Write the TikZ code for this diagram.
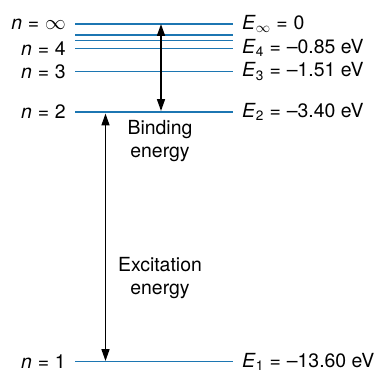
\documentclass[tikz,border=0pt]{standalone}
\usepackage{fontspec}
\setmainfont{TeX Gyre Heros}
\usetikzlibrary{arrows.meta}
\definecolor{levelblue}{RGB}{28,118,178}
\newcommand{\eq}{\hspace{0.3em}=\hspace{0.3em}}
\tikzset{
  level/.style={levelblue, line width=1.3pt},
  trans/.style={line width=1.6pt, {Triangle[length=12pt,width=8pt]}-{Triangle[length=12pt,width=8pt]}},
  lab/.style={font=\fontsize{19.5}{23}\selectfont, inner sep=0pt},
  note/.style={font=\fontsize{19.5}{23.5}\selectfont, align=center, inner sep=0pt}
}
\begin{document}
\begin{tikzpicture}[x=1bp, y=-1bp, line cap=butt]
  % Picture bounds
  \useasboundingbox (0,0) rectangle (391,373);

  % Energy levels with their labels
  \draw[level] (75,24) coordinate (inf-l) -- (233,24) coordinate (inf-r);
  \draw[level] (75,361.5) coordinate (one-l) -- (233,361.5) coordinate (one-r);
  \draw[level] (75,112) coordinate (two-l) -- (233,112) coordinate (two-r);
  \draw[level] (75,71.5) coordinate (three-l) -- (233,71.5) coordinate (three-r);
  \draw[level] (75,48.3) coordinate (four-l) -- (233,48.3) coordinate (four-r);
  \foreach \y/\name in {35/five, 40.7/six}
    \draw[level] (75,\y) coordinate (\name-l) -- (233,\y) coordinate (\name-r);

  \node[lab, anchor=east] (ninf) at ([xshift=-9bp]inf-l) {\textit{n}\eq$\infty$};
  \node[lab, anchor=east] (nfour) at ([xshift=-9bp]four-l) {\textit{n}\eq 4};
  \node[lab, anchor=east] (nthree) at ([xshift=-9bp]three-l) {\textit{n}\eq 3};
  \node[lab, anchor=east] (ntwo) at ([xshift=-9bp]two-l) {\textit{n}\eq 2};
  \node[lab, anchor=east] (none) at ([xshift=-9bp]one-l) {\textit{n}\eq 1};

  \node[lab, anchor=west] (Einf) at ([xshift=9bp]inf-r) {\textit{E}$_\infty$\eq 0};
  \node[lab, anchor=west] (Efour) at ([xshift=9bp]four-r) {\textit{E}\textsubscript{4}\eq –0.85 eV};
  \node[lab, anchor=west] (Ethree) at ([xshift=9bp]three-r) {\textit{E}\textsubscript{3}\eq –1.51 eV};
  \node[lab, anchor=west] (Etwo) at ([xshift=9bp]two-r) {\textit{E}\textsubscript{2}\eq –3.40 eV};
  \node[lab, anchor=west] (Eone) at ([xshift=9bp]one-r) {\textit{E}\textsubscript{1}\eq –13.60 eV};

  % Transitions
  \coordinate (bind-top) at (161,24);
  \coordinate (bind-bot) at (161,111);
  \coordinate (exc-top) at (105.5,113.5);
  \coordinate (exc-bot) at (105.5,361);
  \draw[trans] (bind-top) -- (bind-bot);
  \draw[trans] (exc-top) -- (exc-bot);

  \node[note] (binding) at (160,141) {Binding\\energy};
  \node[note] (excitation) at (160,278) {Excitation\\energy};
\end{tikzpicture}
\end{document}
